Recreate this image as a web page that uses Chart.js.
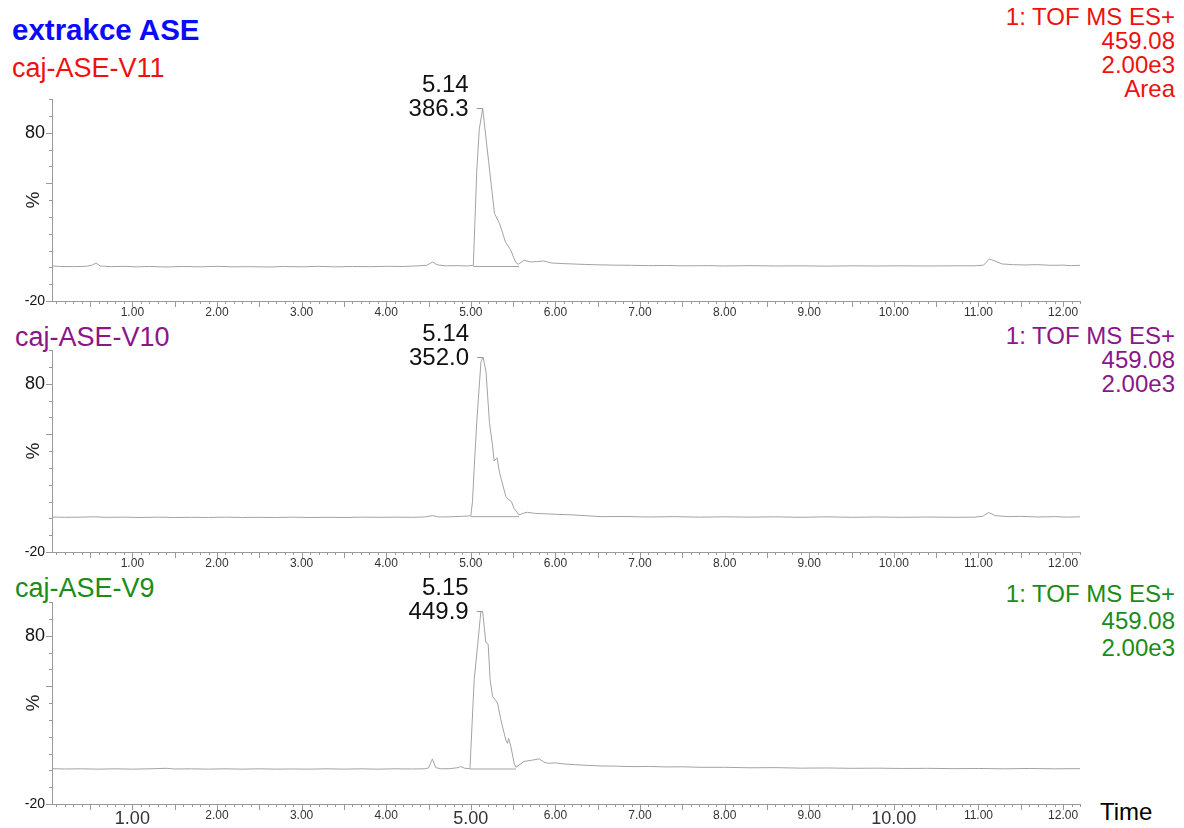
<!DOCTYPE html>
<html>
<head>
<meta charset="utf-8">
<script src="https://cdn.jsdelivr.net/npm/chart.js@4.4.1/dist/chart.umd.min.js"></script>
<style>
  body { margin:0; background:#fff; width:1184px; height:828px; position:relative; overflow:hidden;
         font-family:"Liberation Sans", Arial, sans-serif; }
  canvas { position:absolute; left:0; }
  .lbl { position:absolute; white-space:nowrap; }
  .rt { position:absolute; right:9px; text-align:right; white-space:nowrap; }
</style>
</head>
<body>
<div class="lbl" style="left:12px;top:13px;line-height:34px;font-size:29.5px;font-weight:bold;color:#0a0aff">extrakce ASE</div>
<div class="lbl" style="left:12px;top:53px;line-height:30px;font-size:27px;color:#f01010">caj-ASE-V11</div>
<div class="lbl" style="left:15px;top:322px;line-height:30px;font-size:27px;color:#8a168a">caj-ASE-V10</div>
<div class="lbl" style="left:15px;top:573px;line-height:30px;font-size:27px;color:#1a8c1a">caj-ASE-V9</div>

<div class="rt" style="top:5px;line-height:24px;font-size:24px;color:#f01010">1: TOF MS ES+<br>459.08<br>2.00e3<br>Area</div>
<div class="rt" style="top:324px;line-height:24px;font-size:24px;color:#8a168a">1: TOF MS ES+<br>459.08<br>2.00e3</div>
<div class="rt" style="top:580px;line-height:27px;font-size:24px;color:#1a8c1a">1: TOF MS ES+<br>459.08<br>2.00e3</div>

<div class="lbl" style="left:1100px;top:798px;line-height:28px;font-size:24px;color:#000">Time</div>

<canvas id="c1" width="1184" height="270" style="top:59px"></canvas>
<canvas id="c2" width="1184" height="270" style="top:310px"></canvas>
<canvas id="c3" width="1184" height="266" style="top:562px"></canvas>

<script>
// retention time (min) / intensity (%)
const traceV11 = [[0.05,0.9],[0.15,0.5],[0.3,0.4],[0.45,0.6],[0.52,1.2],[0.57,2.6],[0.62,0.8],[0.75,0.4],[0.9,0.6],
  [1.05,0.3],[1.2,0.5],[1.4,0.2],[1.6,0.5],[1.8,0.3],[2.0,0.6],[2.2,0.3],[2.4,0.4],[2.6,0.2],[2.8,0.5],[3.0,0.3],
  [3.2,0.6],[3.4,0.3],[3.6,0.5],[3.8,0.4],[4.0,0.6],[4.2,0.5],[4.35,0.8],[4.48,1.2],[4.55,3.2],[4.6,1.5],[4.7,0.9],
  [4.85,1.0],[4.95,0.8],[5.03,1.2],[5.07,57],[5.10,82],[5.14,94.5],[5.21,63],[5.28,32],[5.34,26],[5.41,15],
  [5.47,10.5],[5.53,3],[5.56,1.8],[5.63,4.2],[5.7,3.2],[5.78,3.4],[5.86,3.8],[5.95,2.6],[6.1,2.2],[6.3,1.8],[6.5,1.5],
  [6.7,1.3],[6.9,1.2],[7.1,1.0],[7.3,1.1],[7.5,0.9],[7.8,1.0],[8.0,0.8],[8.3,1.0],[8.6,0.8],[8.9,0.9],[9.2,0.7],
  [9.5,0.9],[9.8,0.8],[10.1,0.9],[10.4,0.8],[10.7,0.9],[10.95,0.9],[11.06,1.3],[11.13,5],[11.28,2],[11.4,1.6],
  [11.55,1.4],[11.7,1.6],[11.85,1.2],[12.0,1.3],[12.1,1.0],[12.2,1.2]];
const traceV10 = [[0.05,0.8],[0.2,0.6],[0.4,0.7],[0.55,0.9],[0.7,0.6],[0.9,0.7],[1.1,0.5],[1.3,0.7],[1.5,0.5],
  [1.7,0.6],[1.9,0.5],[2.1,0.7],[2.3,0.5],[2.5,0.6],[2.7,0.5],[2.9,0.7],[3.1,0.5],[3.3,0.6],[3.5,0.5],[3.7,0.7],
  [3.9,0.6],[4.1,0.7],[4.3,0.6],[4.45,0.8],[4.55,1.6],[4.62,0.8],[4.75,0.9],[4.9,1.2],[5.0,1.5],[5.02,10],[5.04,30],
  [5.07,57],[5.12,93],[5.145,95.6],[5.18,87],[5.22,57],[5.257,43],[5.276,34],[5.31,36],[5.34,27],[5.414,13],
  [5.45,11],[5.48,10],[5.51,6],[5.57,2],[5.62,3],[5.67,3.6],[5.75,3],[5.83,2.8],[6.0,2.4],[6.22,2],[6.54,1],
  [6.8,1.1],[7.1,0.8],[7.4,1.0],[7.7,0.7],[8.0,0.9],[8.3,0.7],[8.6,0.9],[8.9,0.6],[9.2,0.9],[9.5,0.6],[9.8,0.8],
  [10.1,0.6],[10.4,0.8],[10.7,0.6],[10.95,0.7],[11.05,1.2],[11.12,3.5],[11.2,1.6],[11.35,1.0],[11.5,1.2],
  [11.7,0.8],[11.9,1.0],[12.05,0.7],[12.2,0.9]];
const traceV9 = [[0.05,1.0],[0.2,0.8],[0.4,0.9],[0.6,0.7],[0.8,0.9],[1.0,0.7],[1.2,0.9],[1.4,1.2],[1.5,0.8],
  [1.7,0.9],[1.9,0.7],[2.1,0.9],[2.3,0.7],[2.5,0.9],[2.7,0.7],[2.9,0.8],[3.1,0.7],[3.3,0.9],[3.5,0.7],[3.7,0.9],
  [3.9,0.7],[4.1,0.9],[4.3,0.8],[4.45,0.9],[4.5,1.4],[4.546,6.8],[4.585,1.6],[4.65,0.9],[4.75,1.0],[4.85,1.6],
  [4.88,2.3],[4.93,1.2],[4.99,1.0],[5.04,54],[5.08,74],[5.118,94],[5.14,94.4],[5.177,76],[5.205,75],[5.228,54],
  [5.257,44],[5.316,40],[5.355,30],[5.414,18],[5.434,16],[5.446,19],[5.474,14],[5.513,4],[5.533,1.8],[5.63,5.3],
  [5.72,6],[5.81,6.8],[5.86,5.0],[5.91,4.2],[6.0,4.4],[6.1,3.8],[6.22,3.4],[6.35,3.0],[6.54,2.6],[6.7,2.5],
  [6.93,2.2],[7.1,2.3],[7.33,2.0],[7.5,2.1],[7.72,1.8],[8.0,1.8],[8.3,1.5],[8.6,1.6],[8.9,1.3],[9.2,1.4],[9.5,1.2],
  [9.8,1.3],[10.1,1.1],[10.4,1.2],[10.7,1.0],[11.0,1.1],[11.3,0.9],[11.6,1.1],[11.9,0.9],[12.2,1.0]];

// integration baselines under the main peak
const baseV11 = [[5.03,0.5],[5.57,0.5]];
const baseV10 = [[5.0,1.0],[5.57,1.0]];
const baseV9  = [[4.99,0.8],[5.533,0.8]];

const peakRT   = ['5.14', '5.14', '5.15'];
const peakArea = ['386.3', '352.0', '449.9'];

const xLabelValues = [1,2,3,4,5,6,7,8,9,10,11,12];
const bigXLabels   = [1,5,10];       // drawn larger on the bottom panel
const yLabelValues = [-20, 80];
const yMajorTicks  = [-20, 50, 80];

const FONT = '"Liberation Sans", Arial, sans-serif';
Chart.defaults.font.family = FONT;

const tickPlugin = {
  id: 'msTicks',
  afterDraw(chart) {
    const { ctx, scales: { x, y } } = chart;
    ctx.save();
    ctx.strokeStyle = '#9a9a9a';
    ctx.lineWidth = 1;
    ctx.beginPath();
    for (let i = 1; i <= 122; i++) {
      const px = Math.round(x.getPixelForValue(i / 10)) + 0.5;
      const len = i % 5 === 0 ? 6 : 3;
      ctx.moveTo(px, x.top);
      ctx.lineTo(px, x.top + len);
    }
    for (let v = -20; v <= 100; v += 10) {
      const py = Math.round(y.getPixelForValue(v)) + 0.5;
      const len = yMajorTicks.includes(v) ? 6 : 3;
      ctx.moveTo(y.right - len, py);
      ctx.lineTo(y.right, py);
    }
    ctx.stroke();
    ctx.restore();
  }
};

const peakPlugin = {
  id: 'peakLabel',
  afterDatasetsDraw(chart, args, opts) {
    const pts = chart.data.datasets[0].data;
    let k = 0;
    pts.forEach((p, i) => { if (p.y > pts[k].y) k = i; });
    const el = chart.getDatasetMeta(0).data[k];
    const ctx = chart.ctx;
    const px = el.x, py = Math.round(el.y) + 0.5;
    ctx.save();
    ctx.strokeStyle = '#9a9a9a';
    ctx.beginPath();
    ctx.moveTo(px - 6, py);
    ctx.lineTo(px, py);
    ctx.stroke();
    ctx.fillStyle = '#111';
    ctx.font = '24px ' + FONT;
    ctx.textAlign = 'right';
    ctx.fillText(opts.rt, px - 14, py - 17);
    ctx.fillText(opts.area, px - 14, py + 7);
    ctx.restore();
  }
};

function makeChart(id, trace, base, rt, area, bottom) {
  const cv = document.getElementById(id);
  return new Chart(cv, {
    type: 'line',
    data: {
      datasets: [
        { data: trace.map(p => ({ x: p[0], y: p[1] })), borderColor: '#a3a3a3', borderWidth: 1,
          pointRadius: 0, tension: 0 },
        { data: base.map(p => ({ x: p[0], y: p[1] })), borderColor: '#a3a3a3', borderWidth: 1,
          pointRadius: 0, tension: 0 }
      ]
    },
    options: {
      responsive: false,
      animation: false,
      events: [],
      layout: { padding: { left: 18, right: 104, top: 40, bottom: 0 } },
      plugins: {
        legend: { display: false },
        tooltip: { enabled: false },
        peakLabel: { rt, area }
      },
      scales: {
        x: {
          type: 'linear', min: 0.05, max: 12.2,
          grid: { display: true, drawOnChartArea: false, drawTicks: false },
          border: { color: '#9a9a9a', width: 1 },
          afterBuildTicks: s => { s.ticks = xLabelValues.map(v => ({ value: v })); },
          afterFit: s => { s.height = cv.height - 242; },
          ticks: {
            autoSkip: false, maxRotation: 0, minRotation: 0, padding: 4, color: '#333',
            callback: v => v.toFixed(2),
            font: c => ({ size: bottom && c.tick && bigXLabels.includes(c.tick.value) ? 18 : 12 })
          }
        },
        y: {
          min: -20, max: 100,
          grid: { display: true, drawOnChartArea: false, drawTicks: false },
          border: { color: '#9a9a9a', width: 1 },
          afterBuildTicks: s => { s.ticks = yLabelValues.map(v => ({ value: v })); },
          afterFit: s => { s.width = 34; },
          ticks: {
            padding: 7, color: '#111',
            font: c => ({ size: c.tick && c.tick.value === 80 ? 18 : 14 })
          },
          title: { display: true, text: '%', color: '#222', font: { size: 19 }, padding: { top: 4, bottom: 0 } }
        }
      }
    },
    plugins: [tickPlugin, peakPlugin]
  });
}

makeChart('c1', traceV11, baseV11, peakRT[0], peakArea[0], false);
makeChart('c2', traceV10, baseV10, peakRT[1], peakArea[1], false);
makeChart('c3', traceV9,  baseV9,  peakRT[2], peakArea[2], true);
</script>
</body>
</html>
